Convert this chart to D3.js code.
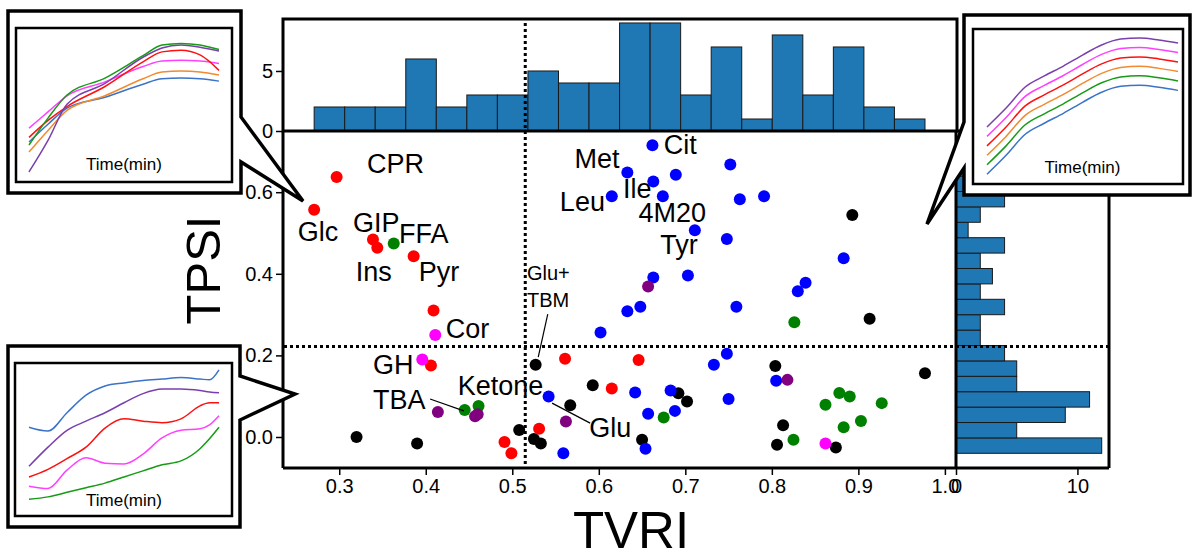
<!DOCTYPE html>
<html><head><meta charset="utf-8">
<script src="https://cdn.jsdelivr.net/npm/d3@7"></script>
<style>
body{margin:0;background:#fff}
svg{display:block}
text{font-family:"Liberation Sans",Arial,Helvetica,sans-serif;fill:#000}
</style></head>
<body><svg id="chart" width="1193" height="559"></svg>
<script>
// ---------------- data ----------------
const redTVRI     = [0.297,0.271,0.339,0.344,0.386,0.409,0.406,0.491,0.499,0.531,0.561,0.646,0.615];
const redTPSI     = [0.637,0.557,0.484,0.464,0.443,0.310,0.175,-0.012,-0.040,0.020,0.192,0.189,0.119];
const magentaTVRI = [0.411,0.396,0.862];
const magentaTPSI = [0.250,0.190,-0.016];
const greenTVRI   = [0.363,0.445,0.461,0.675,0.826,0.825,0.862,0.878,0.890,0.927,0.903,0.883];
const greenTPSI   = [0.474,0.066,0.076,0.048,0.281,-0.007,0.079,0.108,0.099,0.083,0.039,0.024];
const purpleTVRI  = [0.414,0.457,0.460,0.562,0.657,0.818];
const purpleTPSI  = [0.061,0.051,0.056,0.038,0.369,0.140];
const blackTVRI   = [0.320,0.390,0.508,0.527,0.525,0.533,0.593,0.567,0.650,0.692,0.702,0.804,0.813,0.806,0.874,0.977,0.913,0.893];
const blackTPSI   = [0.000,-0.016,0.017,0.177,-0.005,-0.016,0.127,0.078,-0.007,0.107,0.087,0.174,0.029,-0.019,-0.026,0.156,0.290,0.544];
const blueTVRI    = [0.662,0.633,0.663,0.689,0.752,0.615,0.674,0.763,0.791,0.711,0.748,0.883,0.663,0.703,0.839,0.830,0.648,0.633,0.759,0.602,0.542,0.559,0.642,0.683,0.657,0.688,0.654,0.733,0.748,0.750,0.805];
const blueTPSI    = [0.715,0.648,0.626,0.643,0.668,0.590,0.590,0.583,0.590,0.507,0.485,0.438,0.391,0.396,0.378,0.357,0.319,0.308,0.319,0.256,0.099,-0.040,0.109,0.114,0.057,0.064,-0.029,0.177,0.204,0.093,0.138];

const xTicks = [0.3,0.4,0.5,0.6,0.7,0.8,0.9,1.0];
const yTicks = [0.0,0.2,0.4,0.6];
const topHistTicks = [0,5];
const rightHistTicks = [0,10];
const thresholdTVRI = 0.515;
const thresholdTPSI = 0.222;

const labelText = ["CPR","Glc","GIP","FFA","Ins","Pyr","Cor","GH","TBA","Ketone","Glu","Met","Cit","Ile","Leu","4M20","Tyr"];
const labelTVRI = [0.332,0.252,0.316,0.369,0.319,0.392,0.423,0.339,0.339,0.437,0.589,0.572,0.675,0.628,0.555,0.646,0.671];
const labelTPSI = [0.647,0.480,0.502,0.475,0.382,0.382,0.243,0.154,0.069,0.103,0.000,0.659,0.694,0.586,0.554,0.527,0.449];

// inset curves (time vs. relative level 0-100)
const inset1Time    = [0,1,2,4,6,7,8,9,10];
const inset1Green   = [24,41.5,56.5,67.5,82,89,90,89,86];
const inset1Purple  = [6.5,27,50.5,64,81,87,89,87.5,85];
const inset1Red     = [29,40,49,62,78,84.5,85.5,82.5,72.5];
const inset1Magenta = [35,45.5,56,65,75,78.5,79,78.5,77];
const inset1Orange  = [19.5,33.5,46.5,56,67,71.5,72,71.5,69.5];
const inset1Blue    = [26,37.5,48,55,63.5,67,67.5,67,65.5];

const inset2Time    = [0,1,2,3,4,5,6,7,8,9,9.5,10];
const inset2Blue    = [58,55.5,67.5,79,85,87,88.5,89.5,90.5,89.5,89,95.5];
const inset2Purple  = [32.5,45,56,62,67.5,74,80,83,83,82,81,80.5];
const inset2Red     = [25.5,30.5,37.5,45,57.5,63.5,62,61,63.5,72,74,74];
const inset2Magenta = [19.5,18,30,38,34.5,34,40.5,51,56,57,59.5,65.5];
const inset2Green   = [11,12.5,15.5,18.5,21.5,25.5,29.5,33.5,36,44,50.5,58];

const inset3Time    = [0,1,2,3,4,5,6,7,8,9,10];
const inset3Purple  = [36.8,49.0,62.6,69.7,76.1,83.2,89.7,93.5,94.2,92.9,90.9];
const inset3Magenta = [30.7,42.9,56.5,63.6,70.0,77.1,83.6,87.4,88.1,86.8,84.8];
const inset3Red     = [24.6,36.8,50.4,57.5,63.9,71.0,77.5,81.3,82.0,80.7,78.7];
const inset3Orange  = [18.5,30.7,44.3,51.4,57.8,64.9,71.4,75.2,75.9,74.6,72.6];
const inset3Green   = [12.4,24.6,38.2,45.3,51.7,58.8,65.3,69.1,69.8,68.5,66.5];
const inset3Blue    = [6.3,18.5,32.1,39.2,45.6,52.7,59.2,63.0,63.7,62.4,60.4];

// ---------------- drawing ----------------
const svg = d3.select("#chart");
const FONT = '"Liberation Sans",Arial,Helvetica,sans-serif';

const x = d3.scaleLinear().domain([0.235,1.014]).range([283,957]);
const y = d3.scaleLinear().domain([-0.076,0.75]).range([468,131]);
const yTop = d3.scaleLinear().domain([0,9.33]).range([131,19]);
const xRight = d3.scaleLinear().domain([0,12.6]).range([956,1109]);

const groups = [
  {xs:blackTVRI, ys:blackTPSI, c:"#000000"},
  {xs:redTVRI, ys:redTPSI, c:"#ff0000"},
  {xs:blueTVRI, ys:blueTPSI, c:"#0000ff"},
  {xs:greenTVRI, ys:greenTPSI, c:"#008000"},
  {xs:purpleTVRI, ys:purpleTPSI, c:"#800080"},
  {xs:magentaTVRI, ys:magentaTPSI, c:"#ff00ff"}
];
const pts = [];
groups.forEach(g => g.xs.forEach((v,i) => pts.push({x:v, y:g.ys[i], c:g.c})));
const allX = pts.map(p=>p.x), allY = pts.map(p=>p.y);

function makeBins(vals){
  const [lo,hi] = d3.extent(vals), n = 20;
  const thr = d3.range(1,n).map(i => lo + i*(hi-lo)/n);
  return d3.bin().domain([lo,hi]).thresholds(thr)(vals);
}
const binsX = makeBins(allX), binsY = makeBins(allY);

const HISTC = "#1f77b4";
// top histogram
svg.append("g").selectAll("rect").data(binsX).join("rect")
  .attr("x", d=>x(d.x0)).attr("width", d=>x(d.x1)-x(d.x0))
  .attr("y", d=>yTop(d.length)).attr("height", d=>yTop(0)-yTop(d.length))
  .attr("fill", HISTC).attr("stroke","#1a1a1a").attr("stroke-width",1);
// right histogram
svg.append("g").selectAll("rect").data(binsY).join("rect")
  .attr("x", xRight(0)).attr("width", d=>xRight(d.length)-xRight(0))
  .attr("y", d=>y(d.x1)).attr("height", d=>y(d.x0)-y(d.x1))
  .attr("fill", HISTC).attr("stroke","#1a1a1a").attr("stroke-width",1);

// scatter
svg.append("g").selectAll("circle").data(pts).join("circle")
  .attr("cx", d=>x(d.x)).attr("cy", d=>y(d.y)).attr("r", 6)
  .attr("fill", d=>d.c);

// spines
const sp = svg.append("g").attr("stroke","#000").attr("stroke-width",3).attr("fill","none");
sp.append("rect").attr("x",283).attr("y",yTop.range()[1]).attr("width",957-283).attr("height",131-yTop.range()[1]);
sp.append("line").attr("x1",283).attr("x2",283).attr("y1",131).attr("y2",468);
sp.append("line").attr("x1",283).attr("x2",957).attr("y1",468).attr("y2",468);
sp.append("line").attr("x1",xRight(0)).attr("x2",xRight(0)).attr("y1",131).attr("y2",468);
sp.append("line").attr("x1",xRight(0)).attr("x2",xRight.range()[1]).attr("y1",468).attr("y2",468);
sp.append("line").attr("x1",xRight.range()[1]).attr("x2",xRight.range()[1]).attr("y1",131).attr("y2",468);
sp.append("line").attr("x1",xRight(0)).attr("x2",xRight.range()[1]).attr("y1",131).attr("y2",131);

// threshold dotted lines
svg.append("line").attr("x1",x(thresholdTVRI)).attr("x2",x(thresholdTVRI)).attr("y1",23).attr("y2",467)
  .attr("stroke","#000").attr("stroke-width",3).attr("stroke-dasharray","3,3");
svg.append("line").attr("x1",284).attr("x2",xRight.range()[1]).attr("y1",y(thresholdTPSI)).attr("y2",y(thresholdTPSI))
  .attr("stroke","#000").attr("stroke-width",3).attr("stroke-dasharray","3,3");

// axes
function styleAxis(g){
  g.select(".domain").remove();
  g.selectAll(".tick line").attr("stroke","#000").attr("stroke-width",1.5);
  g.selectAll(".tick text").attr("font-size",20).attr("font-family",FONT).attr("fill","#000");
}
svg.append("g").attr("transform","translate(283,0)")
  .call(d3.axisLeft(y).tickValues(yTicks).tickFormat(d3.format(".1f")).tickSize(7).tickPadding(3)).call(styleAxis);
svg.append("g").attr("transform","translate(0,468)")
  .call(d3.axisBottom(x).tickValues(xTicks).tickFormat(d3.format(".1f")).tickSize(7).tickPadding(4)).call(styleAxis);
svg.append("g").attr("transform","translate(283,0)")
  .call(d3.axisLeft(yTop).tickValues(topHistTicks).tickSize(7).tickPadding(3)).call(styleAxis);
svg.append("g").attr("transform","translate(0,468)")
  .call(d3.axisBottom(xRight).tickValues(rightHistTicks).tickSize(7).tickPadding(4)).call(styleAxis);

// axis titles
svg.append("text").attr("x",631).attr("y",548).attr("text-anchor","middle")
  .attr("font-size",51).text("TVRI");
svg.append("text").attr("transform","translate(220,270) rotate(-90)").attr("text-anchor","middle")
  .attr("font-size",49).text("TPSI");

// point labels
svg.append("g").selectAll("text").data(labelText).join("text")
  .attr("x",(d,i)=>x(labelTVRI[i])).attr("y",(d,i)=>y(labelTPSI[i]))
  .attr("font-size",27).text(d=>d);
svg.append("text").attr("x",x(0.517)).attr("y",y(0.385)).attr("font-size",20).text("Glu+");
svg.append("text").attr("x",x(0.517)).attr("y",y(0.319)).attr("font-size",20).text("TBM");
const leaders = [[0.405,0.093,0.444,0.064],[0.546,0.083,0.590,0.034],[0.541,0.301,0.530,0.196]];
svg.append("g").selectAll("line").data(leaders).join("line")
  .attr("x1",d=>x(d[0])).attr("y1",d=>y(d[1])).attr("x2",d=>x(d[2])).attr("y2",d=>y(d[3]))
  .attr("stroke","#000").attr("stroke-width",1.2);

// ---------------- insets ----------------
const LC = {blue:"#3a73c8", orange:"#f28a30", green:"#169b16", red:"#ff1010", purple:"#7a3fae", magenta:"#ff40ff"};
function inset(outerPath, inner, lineX, time, series, labelY){
  const g = svg.append("g");
  g.append("path").attr("d",outerPath).attr("fill","#fff").attr("stroke","#000").attr("stroke-width",3.5).attr("stroke-linejoin","miter");
  g.append("rect").attr("x",inner[0]).attr("y",inner[1]).attr("width",inner[2]-inner[0]).attr("height",inner[3]-inner[1])
    .attr("fill","#fff").attr("stroke","#000").attr("stroke-width",2.5);
  const tx = d3.scaleLinear().domain([0,10]).range(lineX);
  const ty = d3.scaleLinear().domain([0,100]).range([inner[3],inner[1]]);
  const line = d3.line().x((d,i)=>tx(time[i])).y(d=>ty(d)).curve(d3.curveMonotoneX);
  series.forEach(s => g.append("path").attr("d",line(s.v)).attr("fill","none").attr("stroke",s.c).attr("stroke-width",1.5));
  g.append("text").attr("x",(lineX[0]+lineX[1])/2).attr("y",labelY).attr("text-anchor","middle").attr("font-size",17).text("Time(min)");
}
inset("M8,11H241V117L303,201L241,162V193H8Z",[16,28,232,182],[29,219],inset1Time,[
  {v:inset1Blue,c:LC.blue},{v:inset1Orange,c:LC.orange},{v:inset1Magenta,c:LC.magenta},
  {v:inset1Red,c:LC.red},{v:inset1Purple,c:LC.purple},{v:inset1Green,c:LC.green}],170);
inset("M8,346H240V376L295,394L240,420V527H8Z",[15,363,232,516],[29,219],inset2Time,[
  {v:inset2Blue,c:LC.blue},{v:inset2Purple,c:LC.purple},{v:inset2Red,c:LC.red},
  {v:inset2Magenta,c:LC.magenta},{v:inset2Green,c:LC.green}],506);
inset("M964,15H1190V195H964V168L927,224L964,122Z",[973,29,1183,184],[987,1178],inset3Time,[
  {v:inset3Blue,c:LC.blue},{v:inset3Green,c:LC.green},{v:inset3Orange,c:LC.orange},
  {v:inset3Red,c:LC.red},{v:inset3Magenta,c:LC.magenta},{v:inset3Purple,c:LC.purple}],173);
</script></body></html>
